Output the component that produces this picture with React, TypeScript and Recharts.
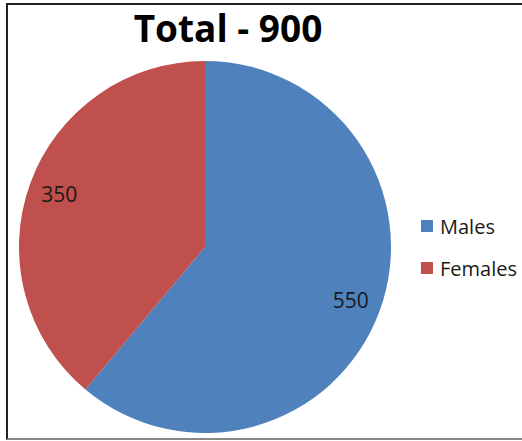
import React from "react";
import { PieChart, Pie, Cell } from "recharts";

const categories = ["Males", "Females"];
const values = [550, 350];
const colors = ["#4F81BD", "#C0504D"];
const title = "Total - 900";

const data = categories.map((name, i) => ({ name, value: values[i] }));

const RAD = Math.PI / 180;
const FONT = "'Open Sans', 'Liberation Sans', sans-serif";

const renderLabel = (props: any) => {
  const { cx, cy, midAngle, value } = props;
  const r = 155;
  const x = cx + r * Math.cos(-midAngle * RAD);
  const y = cy + r * Math.sin(-midAngle * RAD);
  return (
    <text x={x} y={y} textAnchor="middle" dominantBaseline="central" fill="#1a1a1a" fontSize={21} fontFamily={FONT}>
      {value}
    </text>
  );
};

export default function App() {
  return (
    <div style={{ position: "absolute", left: 0, top: 0, width: 522, height: 441, background: "#fff", overflow: "hidden" }}>
      <div
        style={{
          position: "absolute",
          left: 6,
          top: 3,
          width: 530,
          height: 433,
          borderLeft: "2px solid #222",
          borderTop: "2px solid #222",
          borderBottom: "2px solid #888",
          pointerEvents: "none",
        }}
      />
      <div
        style={{
          position: "absolute",
          left: 0,
          width: 456,
          top: 4,
          textAlign: "center",
          fontFamily: FONT,
          fontWeight: 700,
          fontSize: 37,
          color: "#000",
          lineHeight: "48px",
        }}
      >
        {title}
      </div>
      <div style={{ position: "absolute", left: 0, top: 0 }}>
        <PieChart width={522} height={441} margin={{ top: 0, right: 0, bottom: 0, left: 0 }}>
          <Pie
            data={data}
            dataKey="value"
            nameKey="name"
            cx={205}
            cy={247}
            outerRadius={186}
            startAngle={90}
            endAngle={-270}
            stroke="none"
            label={renderLabel}
            labelLine={false}
            isAnimationActive={false}
          >
            {data.map((d, i) => (
              <Cell key={d.name} fill={colors[i]} />
            ))}
          </Pie>
        </PieChart>
      </div>
      {categories.map((c, i) => (
        <div
          key={c}
          style={{ position: "absolute", left: 421, top: 213 + i * 42, height: 26, display: "flex", alignItems: "center", fontFamily: FONT, fontSize: 20, color: "#1a1a1a" }}
        >
          <span style={{ display: "inline-block", width: 12, height: 12, background: colors[i], marginRight: 7 }} />
          <span>{c}</span>
        </div>
      ))}
    </div>
  );
}
